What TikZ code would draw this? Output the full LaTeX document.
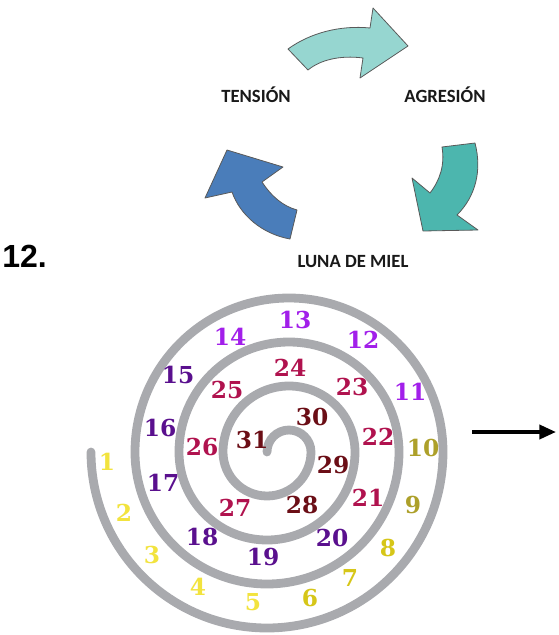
\documentclass[tikz,border=0pt]{standalone}
\usepackage{fontspec}
\usetikzlibrary{arrows.meta}
\newfontfamily\numfont{DejaVu Serif}
\newfontfamily\labfont{Carlito}
\newfontfamily\bigfont{Liberation Sans}
\definecolor{ringgray}{HTML}{A9AAAE}
\definecolor{yA}{HTML}{F2E33E}
\definecolor{yB}{HTML}{D6C618}
\definecolor{yC}{HTML}{ADA02A}
\definecolor{pA}{HTML}{A21FEA}
\definecolor{pB}{HTML}{5A108E}
\definecolor{cR}{HTML}{B0124E}
\definecolor{mR}{HTML}{6B0E16}
\definecolor{arrA}{HTML}{96D6D0}
\definecolor{arrB}{HTML}{4CB6AE}
\definecolor{arrC}{HTML}{4A7DBA}
\tikzset{
  num/.style={font=\numfont\bfseries\fontsize{17.5}{17.5}\selectfont, inner sep=0pt, anchor=center},
  lab/.style={font=\labfont\bfseries\fontsize{14}{14}\selectfont, text=black!90, inner sep=0pt, anchor=center},
  spiral/.style={draw=ringgray, line width=6.6pt, line cap=round},
  blockarrow/.style={draw=black!65, line width=0.6pt, line join=round},
}
\begin{document}
\begin{tikzpicture}[x=0.75pt,y=-0.75pt]
\useasboundingbox (0,0) rectangle (558,635);
% cycle arrows
\path[blockarrow, fill=arrA] (288,49) .. controls (310,33) and (340,25) .. (370,28) -- (373,8) -- (408,46) -- (360,78) -- (363,58) .. controls (340,55) and (320,60) .. (308,70) -- cycle;
\path[blockarrow, fill=arrB] (442,147) -- (475,143) .. controls (482,170) and (476,196) .. (457,215) -- (478,230) -- (423,231) -- (412,178) -- (430,193) .. controls (440,180) and (445,165) .. (442,147) -- cycle;
\path[blockarrow, fill=arrC] (227,150) -- (283,167) -- (262,182) .. controls (272,197) and (283,206) .. (297,210) -- (290,239) .. controls (262,234) and (240,215) .. (232,192) -- (205,198) -- cycle;
\node[lab] (tension) at (256,95) {TENSIÓN};
\node[lab] (agresion) at (445,95) {AGRESIÓN};
\node[lab] (luna) at (353,262) {LUNA DE MIEL};
\node[font=\bigfont\bfseries\fontsize{24}{24}\selectfont, inner sep=0pt, anchor=west] (twelve) at (2,256) {12.};
% spiral
\draw[spiral] (267,452) arc[start angle=180,end angle=360,radius=22]
  arc[start angle=0,end angle=180,radius=44]
  arc[start angle=180,end angle=360,radius=66]
  arc[start angle=0,end angle=180,radius=88]
  arc[start angle=180,end angle=360,radius=110]
  arc[start angle=0,end angle=180,radius=132]
  arc[start angle=180,end angle=360,radius=154]
  arc[start angle=0,end angle=180,radius=176];
% numbers
\node[num, text=yA] (n1) at (107,462) {1};
\node[num, text=yA] (n2) at (124,513) {2};
\node[num, text=yA] (n3) at (152,555) {3};
\node[num, text=yA] (n4) at (198,587) {4};
\node[num, text=yA] (n5) at (253,602) {5};
\node[num, text=yB] (n6) at (310,598) {6};
\node[num, text=yB] (n7) at (350,578) {7};
\node[num, text=yB] (n8) at (388,548) {8};
\node[num, text=yC] (n9) at (413,505) {9};
\node[num, text=yC] (n10) at (423,448) {10};
\node[num, text=pA] (n11) at (410,392) {11};
\node[num, text=pA] (n12) at (363,340) {12};
\node[num, text=pA] (n13) at (295,320) {13};
\node[num, text=pA] (n14) at (230,337) {14};
\node[num, text=pB] (n15) at (178,375) {15};
\node[num, text=pB] (n16) at (160,428) {16};
\node[num, text=pB] (n17) at (163,483) {17};
\node[num, text=pB] (n18) at (202,537) {18};
\node[num, text=pB] (n19) at (263,557) {19};
\node[num, text=pB] (n20) at (332,538) {20};
\node[num, text=cR] (n21) at (368,498) {21};
\node[num, text=cR] (n22) at (378,437) {22};
\node[num, text=cR] (n23) at (352,387) {23};
\node[num, text=cR] (n24) at (290,368) {24};
\node[num, text=cR] (n25) at (227,390) {25};
\node[num, text=cR] (n26) at (202,447) {26};
\node[num, text=cR] (n27) at (235,508) {27};
\node[num, text=mR] (n28) at (302,505) {28};
\node[num, text=mR] (n29) at (333,465) {29};
\node[num, text=mR] (n30) at (312,417) {30};
\node[num, text=mR] (n31) at (252,440) {31};
% right arrow
\coordinate (arrs) at (472,432);
\coordinate (arre) at (556,432);
\draw[line width=2.8pt, -{Triangle[length=12.5pt,width=10.5pt]}] (arrs) -- (arre);
\end{tikzpicture}
\end{document}
